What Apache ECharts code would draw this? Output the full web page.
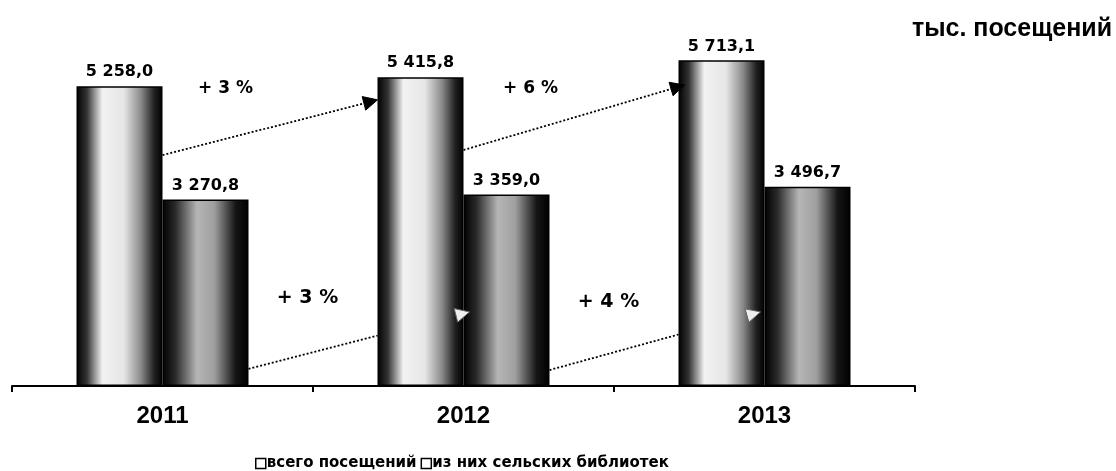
<!DOCTYPE html>
<html>
<head>
<meta charset="utf-8">
<script src="https://cdn.jsdelivr.net/npm/echarts@6/dist/echarts.min.js"></script>
<style>
	html, body { margin: 0; padding: 0; background: #fff; }
	#chart { width: 1116px; height: 471px; }
</style>
</head>
<body>
<div id="chart"></div>
<script>
	var years = ["2011", "2012", "2013"];
	var totalVisits = [5258.0, 5415.8, 5713.1];
	var ruralVisits = [3270.8, 3359.0, 3496.7];
	var totalGrowth = ["+ 3 %", "+ 6 %"];
	var ruralGrowth = ["+ 3 %", "+ 4 %"];
	var seriesNames = ["всего посещений", "из них сельских библиотек"];

	var font = "Arial, 'Liberation Sans', sans-serif";
	var wideFont = "'DejaVu Sans', Verdana, sans-serif";
	var barWidth = 86;

	function fmt(v) {
		var parts = v.toFixed(1).split(".");
		var intPart = parts[0].replace(/\B(?=(\d{3})+(?!\d))/g, " ");
		return intPart + "," + parts[1];
	}

	function grad(stops) {
		return new echarts.graphic.LinearGradient(0, 0, 1, 0, stops);
	}

	var labelStyle = {
		show: true,
		position: "top",
		distance: 6,
		fontFamily: wideFont,
		fontWeight: "bold",
		fontSize: 16,
		color: "#000",
		formatter: function (p) { return fmt(p.value); }
	};

	var option = {
		animation: false,
		grid: { left: 12, right: 201, top: 44, bottom: 85 },
		legend: {
			left: 250,
			top: 451,
			itemWidth: 10,
			itemHeight: 10,
			itemGap: 4,
			textStyle: { fontFamily: wideFont, fontWeight: "bold", fontSize: 15, color: "#000", padding: [0, 0, 0, -4] },
			data: [
				{ name: seriesNames[0], icon: "rect", itemStyle: { color: "#fff", borderColor: "#000", borderWidth: 1.5 } },
				{ name: seriesNames[1], icon: "rect", itemStyle: { color: "#fff", borderColor: "#000", borderWidth: 1.5 } }
			]
		},
		xAxis: {
			type: "category",
			data: years,
			axisLine: { lineStyle: { color: "#000", width: 2 } },
			axisTick: { show: true, length: 6, lineStyle: { color: "#000", width: 2 } },
			axisLabel: { margin: 18, fontFamily: font, fontWeight: "bold", fontSize: 24, color: "#000" }
		},
		yAxis: {
			type: "value",
			min: 0,
			max: 6000,
			show: false,
			splitLine: { show: false }
		},
		series: [
			{
				name: seriesNames[0],
				type: "bar",
				barWidth: barWidth,
				barGap: "0%",
				data: totalVisits,
				label: labelStyle,
				itemStyle: {
					borderColor: "#000",
					borderWidth: 1.5,
					color: grad([
						{ offset: 0, color: "#000" },
						{ offset: 0.12, color: "#333" },
						{ offset: 0.3, color: "#f2f2f2" },
						{ offset: 0.55, color: "#e6e6e6" },
						{ offset: 0.75, color: "#8a8a8a" },
						{ offset: 0.9, color: "#222" },
						{ offset: 1, color: "#000" }
					])
				}
			},
			{
				name: seriesNames[1],
				type: "bar",
				barWidth: barWidth,
				barGap: "0%",
				data: ruralVisits,
				label: labelStyle,
				itemStyle: {
					borderColor: "#000",
					borderWidth: 1.5,
					color: grad([
						{ offset: 0, color: "#000" },
						{ offset: 0.15, color: "#2a2a2a" },
						{ offset: 0.4, color: "#b5b5b5" },
						{ offset: 0.6, color: "#a0a0a0" },
						{ offset: 0.85, color: "#151515" },
						{ offset: 1, color: "#000" }
					])
				}
			}
		]
	};

	var myChart = echarts.init(document.getElementById("chart"));
	myChart.setOption(option);

	// arrows and percent labels placed from axis coordinates
	function px(cat) { return myChart.convertToPixel({ xAxisIndex: 0 }, cat); }
	function py(v) { return myChart.convertToPixel({ yAxisIndex: 0 }, v); }

	function arrow(x1, y1, x2, y2, cutX, headFill) {
		var ex = x2, ey = y2;
		if (cutX != null) {
			ex = cutX;
			ey = y1 + (y2 - y1) * (cutX - x1) / (x2 - x1);
		}
		var ang = Math.atan2(y2 - y1, x2 - x1);
		var len = 14, half = 7;
		var bx = x2 - len * Math.cos(ang), by = y2 - len * Math.sin(ang);
		var nx = -Math.sin(ang) * half, ny = Math.cos(ang) * half;
		if (cutX == null) { ex = bx; ey = by; }
		return [
			{
				type: "line", z: 10,
				shape: { x1: x1, y1: y1, x2: ex, y2: ey },
				style: { stroke: "#000", lineWidth: 1.8, lineDash: [2, 2] }
			},
			{
				type: "polygon", z: 10,
				shape: { points: [[x2, y2], [bx + nx, by + ny], [bx - nx, by - ny]] },
				style: { fill: headFill, stroke: headFill === "#000" ? "#000" : "#666", lineWidth: 1 }
			}
		];
	}

	function pctText(x, y, text, size) {
		return {
			type: "text", z: 10,
			x: x, y: y,
			style: {
				text: text, fill: "#000",
				font: "bold " + size + "px " + wideFont,
				align: "center", verticalAlign: "middle"
			}
		};
	}

	var c = years.map(px);
	var els = [];
	els = els.concat(arrow(c[0], py(4050), c[1] - barWidth, py(5020), null, "#000"));
	els = els.concat(arrow(c[1], py(4140), c[2] - barWidth + 6, py(5280), null, "#000"));
	els = els.concat(arrow(c[0] + barWidth, py(300), c[1] + 6, py(1300), c[1] - barWidth, "#eeeeee"));
	els = els.concat(arrow(c[1] + barWidth, py(280), c[2] - 4, py(1300), c[2] - barWidth, "#eeeeee"));
	els.push(pctText(c[0] + 63, py(5220), totalGrowth[0], 17));
	els.push(pctText(c[1] + 67, py(5220), totalGrowth[1], 17));
	els.push(pctText(c[0] + 145, py(1550), ruralGrowth[0], 19));
	els.push(pctText(c[1] + 145, py(1470), ruralGrowth[1], 19));
	els.push({
		type: "text", z: 10,
		x: 1112, y: 29,
		style: {
			text: "тыс. посещений", fill: "#000",
			font: "bold 25px " + font,
			align: "right", verticalAlign: "middle"
		}
	});

	myChart.setOption({ graphic: { elements: els } });
</script>
</body>
</html>
